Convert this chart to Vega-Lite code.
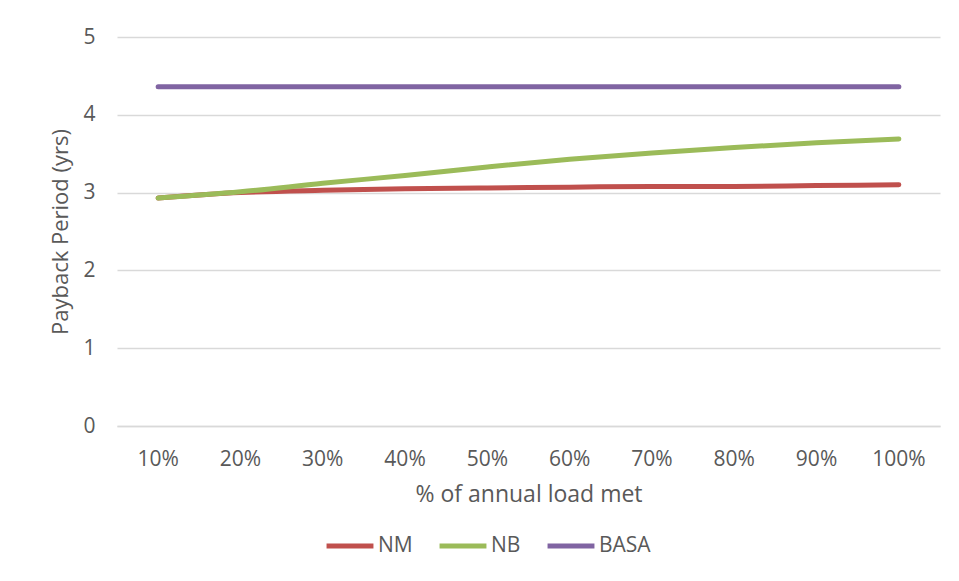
{
  "$schema": "https://vega.github.io/schema/vega-lite/v6.json",
  "width": 823,
  "height": 389,
  "autosize": "none",
  "padding": {"left": 117, "top": 37, "right": 19, "bottom": 155},
  "background": "white",
  "config": {
    "view": {"stroke": null},
    "font": "Open Sans",
    "axis": {"labelFont": "Open Sans", "titleFont": "Open Sans", "labelColor": "#595959", "titleColor": "#595959", "titleFontWeight": "normal"},
    "legend": {"labelFont": "Open Sans", "labelColor": "#595959"}
  },
  "data": {
    "values": [
      {"load": "10%", "series": "NM", "years": 2.93},
      {"load": "20%", "series": "NM", "years": 3.00},
      {"load": "30%", "series": "NM", "years": 3.03},
      {"load": "40%", "series": "NM", "years": 3.05},
      {"load": "50%", "series": "NM", "years": 3.06},
      {"load": "60%", "series": "NM", "years": 3.07},
      {"load": "70%", "series": "NM", "years": 3.08},
      {"load": "80%", "series": "NM", "years": 3.08},
      {"load": "90%", "series": "NM", "years": 3.09},
      {"load": "100%", "series": "NM", "years": 3.10},
      {"load": "10%", "series": "NB", "years": 2.93},
      {"load": "20%", "series": "NB", "years": 3.01},
      {"load": "30%", "series": "NB", "years": 3.12},
      {"load": "40%", "series": "NB", "years": 3.22},
      {"load": "50%", "series": "NB", "years": 3.33},
      {"load": "60%", "series": "NB", "years": 3.43},
      {"load": "70%", "series": "NB", "years": 3.51},
      {"load": "80%", "series": "NB", "years": 3.58},
      {"load": "90%", "series": "NB", "years": 3.64},
      {"load": "100%", "series": "NB", "years": 3.69},
      {"load": "10%", "series": "BASA", "years": 4.36},
      {"load": "20%", "series": "BASA", "years": 4.36},
      {"load": "30%", "series": "BASA", "years": 4.36},
      {"load": "40%", "series": "BASA", "years": 4.36},
      {"load": "50%", "series": "BASA", "years": 4.36},
      {"load": "60%", "series": "BASA", "years": 4.36},
      {"load": "70%", "series": "BASA", "years": 4.36},
      {"load": "80%", "series": "BASA", "years": 4.36},
      {"load": "90%", "series": "BASA", "years": 4.36},
      {"load": "100%", "series": "BASA", "years": 4.36}
    ]
  },
  "mark": {"type": "line", "strokeWidth": 5, "strokeCap": "round", "strokeJoin": "round", "interpolate": "monotone"},
  "encoding": {
    "x": {
      "field": "load",
      "type": "ordinal",
      "sort": ["10%", "20%", "30%", "40%", "50%", "60%", "70%", "80%", "90%", "100%"],
      "scale": {"type": "band", "paddingInner": 0, "paddingOuter": 0},
      "axis": {
        "title": "% of annual load met",
        "labelAngle": 0,
        "labelFontSize": 21,
        "titleFontSize": 23,
        "ticks": false,
        "domain": true,
        "domainColor": "#d9d9d9",
        "domainWidth": 1.5,
        "labelPadding": 22,
        "titlePadding": 14,
        "grid": false,
        "labelOverlap": false
      }
    },
    "y": {
      "field": "years",
      "type": "quantitative",
      "scale": {"domain": [0, 5], "nice": false},
      "axis": {
        "title": "Payback Period (yrs)",
        "values": [0, 1, 2, 3, 4, 5],
        "labelOverlap": false,
        "labelFontSize": 21,
        "titleFontSize": 22,
        "ticks": false,
        "domain": false,
        "grid": true,
        "gridColor": "#d9d9d9",
        "gridWidth": 1.5,
        "labelPadding": 22,
        "titlePadding": 10
      }
    },
    "color": {
      "field": "series",
      "type": "nominal",
      "sort": ["NM", "NB", "BASA"],
      "scale": {"domain": ["NM", "NB", "BASA"], "range": ["#C0504D", "#9BBB59", "#8064A2"]},
      "legend": {
        "title": null,
        "orient": "none",
        "legendX": 207,
        "legendY": 483,
        "direction": "horizontal",
        "symbolType": "stroke",
        "symbolStrokeWidth": 5,
        "symbolSize": 2200,
        "labelFontSize": 21,
        "labelOffset": 2,
        "columnPadding": 16
      }
    }
  }
}
